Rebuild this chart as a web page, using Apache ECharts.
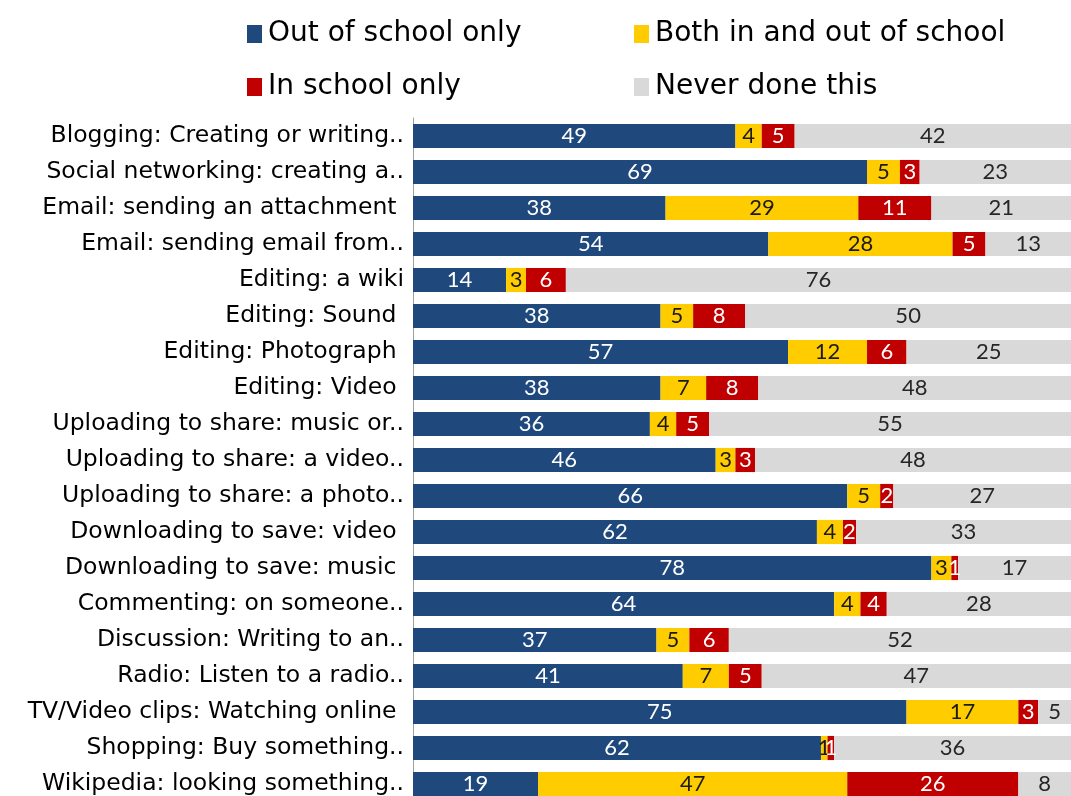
<!DOCTYPE html>
<html>
<head>
<meta charset="utf-8">
<style>
  html, body { margin: 0; padding: 0; background: #ffffff; overflow: hidden; height: 796px; }
  #chart { width: 1071px; height: 802px; }
</style>
<script src="https://cdn.jsdelivr.net/npm/echarts@6/dist/echarts.min.js"></script>
</head>
<body>
<div id="chart"></div>
<script>
// Activities, listed top to bottom
const categories = [
  'Blogging: Creating or writing..',
  'Social networking: creating a..',
  'Email: sending an attachment ',
  'Email: sending email from..',
  'Editing: a wiki',
  'Editing: Sound ',
  'Editing: Photograph ',
  'Editing: Video ',
  'Uploading to share: music or..',
  'Uploading to share: a video..',
  'Uploading to share: a photo..',
  'Downloading to save: video ',
  'Downloading to save: music ',
  'Commenting: on someone..',
  'Discussion: Writing to an..',
  'Radio: Listen to a radio..',
  'TV/Video clips: Watching online ',
  'Shopping: Buy something..',
  'Wikipedia: looking something..'
];

// Percentages per activity
const outOfSchoolOnly = [49, 69, 38, 54, 14, 38, 57, 38, 36, 46, 66, 62, 78, 64, 37, 41, 75, 62, 19];
const bothInAndOut    = [4, 5, 29, 28, 3, 5, 12, 7, 4, 3, 5, 4, 3, 4, 5, 7, 17, 1, 47];
const inSchoolOnly    = [5, 3, 11, 5, 6, 8, 6, 8, 5, 3, 2, 2, 1, 4, 6, 5, 3, 1, 26];
const neverDone       = [42, 23, 21, 13, 76, 50, 25, 48, 55, 48, 27, 33, 17, 28, 52, 47, 5, 36, 8];

const seriesNames = ['Out of school only', 'Both in and out of school', 'In school only', 'Never done this'];
const colors = ['#1F497D', '#FFCC00', '#C00000', '#D9D9D9'];
const labelColors = ['#ffffff', '#1a1a1a', '#ffffff', '#262626'];
const seriesData = [outOfSchoolOnly, bothInAndOut, inSchoolOnly, neverDone];

// 100% stacked: each bar is drawn as its share of the row total,
// while the label keeps the rounded percentage.
const rowTotals = categories.map((_, r) => seriesData.reduce((s, arr) => s + arr[r], 0));

const valueFont = 'Lato, "Open Sans", sans-serif';
const textFont = '"DejaVu Sans", "Liberation Sans", sans-serif';

const chart = echarts.init(document.getElementById('chart'), null, { renderer: 'canvas' });

// One legend block per entry so the two columns line up
const legendPos = [
  { left: 242, top: 15 },
  { left: 629, top: 15 },
  { left: 242, top: 68 },
  { left: 629, top: 68 }
];
const legends = seriesNames.map((name, i) => ({
  data: [name],
  left: legendPos[i].left,
  top: legendPos[i].top,
  orient: 'horizontal',
  icon: 'rect',
  itemWidth: 15,
  itemHeight: 18,
  itemGap: 0,
  selectedMode: false,
  textStyle: { fontFamily: textFont, fontSize: 28, color: '#000000', padding: [0, 0, 0, 1] }
}));

const option = {
  animation: false,
  backgroundColor: '#ffffff',
  color: colors,
  legend: legends,
  grid: { left: 413, right: 0, top: 118, height: 684, containLabel: false },
  xAxis: {
    type: 'value',
    min: 0,
    max: 100,
    show: false
  },
  yAxis: {
    type: 'category',
    data: categories,
    inverse: true,
    axisLine: { show: true, lineStyle: { color: '#a0a0a0', width: 1 } },
    axisTick: { show: false },
    axisLabel: {
      margin: 9,
      fontFamily: textFont,
      fontSize: 23.5,
      color: '#000000'
    }
  },
  series: seriesData.map((data, i) => ({
    name: seriesNames[i],
    type: 'bar',
    stack: 'total',
    data: data.map((v, r) => ({ value: v / rowTotals[r] * 100, raw: v })),
    barCategoryGap: '33%',
    itemStyle: { color: colors[i] },
    label: {
      show: true,
      position: 'inside',
      color: labelColors[i],
      fontFamily: valueFont,
      fontSize: 22,
      formatter: (p) => String(p.data.raw)
    }
  }))
};

chart.setOption(option);
</script>
</body>
</html>
